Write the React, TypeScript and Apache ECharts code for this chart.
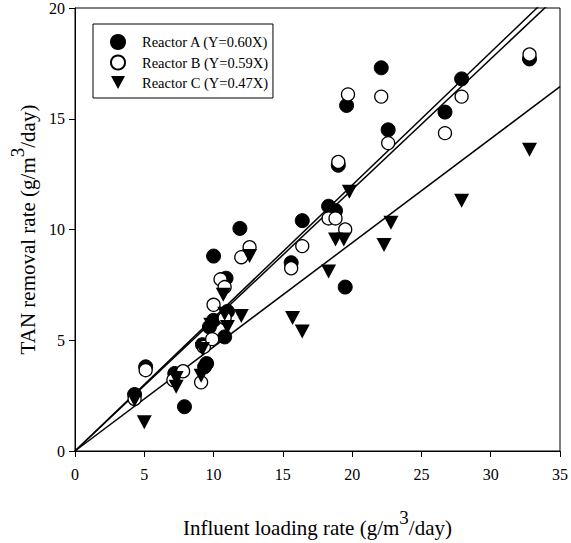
import React, { useEffect, useRef } from "react";
import * as echarts from "echarts";

const seriesNames = ["Reactor A (Y=0.60X)", "Reactor B (Y=0.59X)", "Reactor C (Y=0.47X)"];

const reactorA: number[][] = [
  [4.3, 2.55], [5.1, 3.8], [7.2, 3.5], [7.9, 2.0], [9.2, 4.8], [9.35, 3.8], [9.5, 3.95],
  [9.7, 5.6], [10.0, 5.9], [10.0, 8.8], [10.8, 5.15], [10.9, 7.8], [11.0, 6.3], [11.9, 10.05],
  [15.6, 8.5], [16.4, 10.4], [18.3, 11.05], [18.8, 10.85], [19.0, 12.9], [19.5, 7.4],
  [19.6, 15.6], [22.1, 17.3], [22.6, 14.5], [26.7, 15.3], [27.9, 16.8], [32.8, 17.7],
];

const reactorB: number[][] = [
  [4.3, 2.35], [5.1, 3.65], [7.1, 3.2], [7.8, 3.6], [9.1, 3.1], [9.3, 4.7], [9.9, 5.05],
  [10.0, 6.6], [10.5, 7.75], [10.8, 7.4], [10.8, 6.0], [12.0, 8.75], [12.6, 9.2],
  [15.6, 8.25], [16.4, 9.25], [18.3, 10.5], [18.8, 10.5], [19.0, 13.05], [19.5, 10.0],
  [19.7, 16.1], [22.1, 16.0], [22.6, 13.9], [26.7, 14.35], [27.9, 16.0], [32.8, 17.9],
];

const reactorC: number[][] = [
  [4.3, 2.3], [5.0, 1.3], [7.3, 2.9], [7.3, 3.3], [9.1, 3.4], [9.2, 4.6], [9.8, 5.7],
  [10.7, 7.05], [10.8, 6.2], [11.0, 5.6], [12.0, 6.1], [12.6, 8.8], [15.7, 6.0], [16.4, 5.4],
  [18.3, 8.1], [18.8, 9.55], [19.4, 9.55], [19.8, 11.7], [22.3, 9.3], [22.8, 10.3],
  [27.9, 11.3], [32.8, 13.6],
];

const slopes = [0.6, 0.59, 0.47];
const xRange = [0, 35];

const FONT = "'Liberation Serif', 'DejaVu Serif', serif";

export default function App() {
  const ref = useRef<HTMLDivElement>(null);
  useEffect(() => {
    if (!ref.current) return;
    const chart = echarts.init(ref.current, null, { renderer: "svg" });
    const tri = "path://M0,0 L12,0 L6,11 Z";
    const fitLines = slopes.map((k) => ({
      type: "line",
      data: xRange.map((x) => [x, k * x]),
      symbol: "none",
      lineStyle: { color: "#000", width: 1.5 },
      silent: true,
      clip: true,
      z: 1,
    }));
    const titleRich = {
      t: { fontFamily: FONT, fontSize: 21, color: "#000", lineHeight: 30, verticalAlign: "bottom" },
      s: { fontFamily: FONT, fontSize: 19, color: "#000", lineHeight: 15, verticalAlign: "top" },
    };
    chart.setOption({
      animation: false,
      backgroundColor: "#fff",
      grid: {
        left: 75,
        right: 9,
        top: 8,
        bottom: 82,
        show: true,
        borderColor: "#000",
        borderWidth: 1,
        backgroundColor: "transparent",
      },
      legend: {
        data: seriesNames,
        orient: "vertical",
        left: 93,
        top: 24,
        padding: [10, 4, 8, 17],
        itemWidth: 14,
        itemHeight: 14,
        itemGap: 4.5,
        borderColor: "#000",
        borderWidth: 1,
        backgroundColor: "#fff",
        textStyle: { fontFamily: FONT, fontSize: 14.5, color: "#000", padding: [0, 0, 0, 12] },
      },
      xAxis: {
        type: "value",
        min: 0,
        max: 35,
        interval: 5,
        splitLine: { show: false },
        axisLine: { lineStyle: { color: "#000", width: 1 } },
        axisTick: { inside: false, length: 6, lineStyle: { color: "#000" } },
        axisLabel: { fontFamily: FONT, fontSize: 16, color: "#000", margin: 15 },
        name: "{t|Influent loading rate (g/m}{s|3}{t|/day)}",
        nameLocation: "middle",
        nameGap: 57,
        nameTextStyle: { rich: titleRich },
      },
      yAxis: {
        type: "value",
        min: 0,
        max: 20,
        interval: 5,
        splitLine: { show: false },
        axisLine: { lineStyle: { color: "#000", width: 1 } },
        axisTick: { inside: false, length: 6, lineStyle: { color: "#000" } },
        axisLabel: { fontFamily: FONT, fontSize: 16, color: "#000", margin: 10 },
        name: "{t|TAN removal rate (g/m}{s|3}{t|/day)}",
        nameLocation: "middle",
        nameRotate: 90,
        nameGap: 33,
        nameTextStyle: { rich: titleRich },
      },
      series: [
        ...fitLines,
        {
          name: seriesNames[0],
          type: "scatter",
          data: reactorA,
          symbol: "circle",
          symbolSize: 14,
          itemStyle: { color: "#000", borderColor: "#000", borderWidth: 1, opacity: 1 },
          z: 3,
        },
        {
          name: seriesNames[1],
          type: "scatter",
          data: reactorB,
          symbol: "circle",
          symbolSize: 13,
          itemStyle: { color: "#fff", borderColor: "#000", borderWidth: 1.3, opacity: 1 },
          z: 4,
        },
        {
          name: seriesNames[2],
          type: "scatter",
          data: reactorC,
          symbol: tri,
          symbolSize: [15, 14],
          itemStyle: { color: "#000", opacity: 1 },
          z: 5,
        },
      ],
    });
    return () => chart.dispose();
  }, []);
  return (
    <div
      ref={ref}
      style={{ position: "fixed", left: 0, top: 0, width: 571, height: 543, background: "#fff" }}
    />
  );
}
